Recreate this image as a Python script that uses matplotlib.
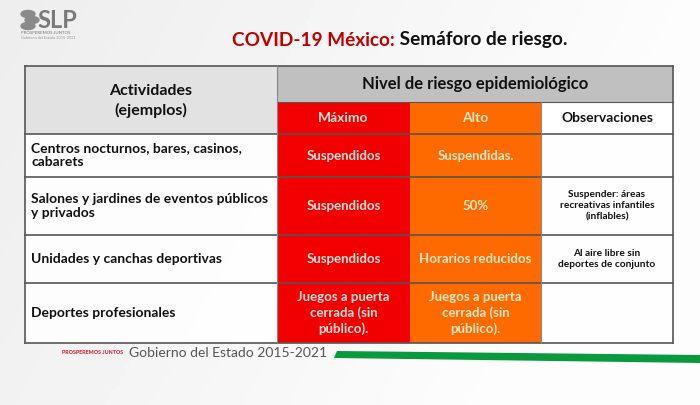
import matplotlib.pyplot as plt
import numpy as np
from matplotlib import font_manager
from matplotlib.patches import Rectangle, Polygon, Ellipse

plt.rcParams['font.family'] = ['Lato', 'DejaVu Sans']

# contenido de la tabla
title_red = 'COVID-19 México:'
title_black = ' Semáforo de riesgo.'
header_left = 'Actividades\n(ejemplos)'
header_top = 'Nivel de riesgo epidemiológico'
levels = ['Máximo', 'Alto', 'Observaciones']
activities = [
    'Centros nocturnos, bares, casinos,\ncabarets',
    'Salones y jardines de eventos públicos\ny privados',
    'Unidades y canchas deportivas',
    'Deportes profesionales',
]
maximo = ['Suspendidos', 'Suspendidos', 'Suspendidos',
          'Juegos a puerta\ncerrada (sin\npúblico).']
alto = ['Suspendidas.', '50%', 'Horarios reducidos',
        'Juegos a puerta\ncerrada (sin\npúblico).']
observaciones = ['', 'Suspender: áreas\nrecreativas infantiles\n(inflables)',
                 'Al aire libre sin\ndeportes de conjunto', '']

# geometria en pixeles
col_x = [25, 277, 410, 541, 673]
row_y = [134, 177, 235, 283, 343]
top, mid = 66, 102

RED = '#f20000'
ORANGE = '#ff6a00'
GRID = '#555555'

# fuente angosta para el pie si existe
names = {f.name for f in font_manager.fontManager.ttflist}
narrow = 'Liberation Sans Narrow' if 'Liberation Sans Narrow' in names else None

fig = plt.figure(figsize=(7, 4.05), dpi=100)
ax = fig.add_axes([0, 0, 1, 1])
ax.set_xlim(0, 700)
ax.set_ylim(405, 0)
ax.axis('off')

# fondo con degradado suave
xx, yy = np.meshgrid(np.linspace(0, 1, 140), np.linspace(0, 1, 81))
bg = 0.93 + 0.06 * np.clip(xx + 0.3 * yy, 0, 1)
ax.imshow(bg, cmap='gray', vmin=0, vmax=1, extent=[0, 700, 405, 0],
          aspect='auto', zorder=0)

# logo
for dx, dy in [(0, 0), (4, 6), (0, 12)]:
    ax.add_patch(Ellipse((28 + dx, 14 + dy), 14, 7, color='#8a8a8a', zorder=2))
ax.text(37, 20, 'SLP', fontsize=17, fontweight='bold', color='#7a7a7a',
        ha='left', va='center', zorder=3)
ax.text(21, 33, 'PROSPEREMOS JUNTOS', fontsize=3.2, color='#777777',
        ha='left', va='center')
ax.text(21, 38, 'Gobierno del Estado 2015-2021', fontsize=2.8, color='#999999',
        ha='left', va='center')

# titulo
t1 = ax.text(232, 40, title_red, fontsize=13.7, fontweight='bold',
             color='#c00000', ha='left', va='center')
fig.canvas.draw()
bb = t1.get_window_extent().transformed(ax.transData.inverted())
ax.text(bb.x1, 40, title_black, fontsize=13.7, fontweight='bold',
        color='#111111', ha='left', va='center')

# encabezados
ax.add_patch(Rectangle((col_x[0], top), col_x[1] - col_x[0], row_y[0] - top,
                       facecolor='#e2e2e2', edgecolor='none', zorder=1))
ax.add_patch(Rectangle((col_x[1], top), col_x[4] - col_x[1], mid - top,
                       facecolor='#c0c0c0', edgecolor='none', zorder=1))
ax.text((col_x[0] + col_x[1]) / 2, (top + row_y[0]) / 2 + 1, header_left,
        fontsize=11.5, fontweight='bold', ha='center', va='center',
        linespacing=1.45, color='#111111', zorder=3)
ax.text((col_x[1] + col_x[4]) / 2, (top + mid) / 2, header_top,
        fontsize=12, fontweight='bold', ha='center', va='center',
        color='#111111', zorder=3)

level_fill = [RED, ORANGE, 'white']
level_text = ['#ffe2dc', '#ffe6c8', '#111111']
for i, name in enumerate(levels):
    ax.add_patch(Rectangle((col_x[i + 1], mid), col_x[i + 2] - col_x[i + 1],
                           row_y[0] - mid, facecolor=level_fill[i],
                           edgecolor='none', zorder=1))
    ax.text((col_x[i + 1] + col_x[i + 2]) / 2, (mid + row_y[0]) / 2, name,
            fontsize=10, fontweight='bold', ha='center', va='center',
            color=level_text[i], zorder=3)

# filas
for r, act in enumerate(activities):
    y0, y1 = row_y[r], row_y[r + 1]
    yc = (y0 + y1) / 2
    ax.add_patch(Rectangle((col_x[0], y0), col_x[1] - col_x[0], y1 - y0,
                           facecolor='white', edgecolor='none', alpha=0.9, zorder=1))
    ax.add_patch(Rectangle((col_x[1], y0), col_x[2] - col_x[1], y1 - y0,
                           facecolor=RED, edgecolor='none', zorder=1))
    ax.add_patch(Rectangle((col_x[2], y0), col_x[3] - col_x[2], y1 - y0,
                           facecolor=ORANGE, edgecolor='none', zorder=1))
    ax.add_patch(Rectangle((col_x[3], y0), col_x[4] - col_x[3], y1 - y0,
                           facecolor='white', edgecolor='none', alpha=0.9, zorder=1))
    ax.text(col_x[0] + 6, yc, act, fontsize=10, fontweight='bold', ha='left',
            va='center', linespacing=1.2, color='#111111', zorder=3)
    ax.text((col_x[1] + col_x[2]) / 2, yc, maximo[r], fontsize=9.5,
            fontweight='bold', ha='center', va='center', linespacing=1.3,
            color='#ffe2dc', zorder=3)
    ax.text((col_x[2] + col_x[3]) / 2, yc, alto[r], fontsize=9.5,
            fontweight='bold', ha='center', va='center', linespacing=1.3,
            color='#ffe6c8', zorder=3)
    ax.text((col_x[3] + col_x[4]) / 2, yc, observaciones[r], fontsize=7.3,
            fontweight='bold', ha='center', va='center', linespacing=1.3,
            color='#111111', zorder=3)

# lineas de la tabla
for y in [top] + row_y:
    ax.plot([col_x[0], col_x[4]], [y, y], color=GRID, lw=1.2, zorder=4)
ax.plot([col_x[1], col_x[4]], [mid, mid], color=GRID, lw=0.8, zorder=4)
ax.plot([col_x[0], col_x[0]], [top, row_y[-1]], color=GRID, lw=1.2, zorder=4)
ax.plot([col_x[4], col_x[4]], [top, row_y[-1]], color=GRID, lw=1.2, zorder=4)
ax.plot([col_x[1], col_x[1]], [top, row_y[-1]], color='#888888', lw=0.8, zorder=4)
ax.plot([col_x[3], col_x[3]], [mid, row_y[-1]], color='#888888', lw=0.8, zorder=4)

# pie
if narrow:
    ax.text(62, 353, 'PROSPEREMOS JUNTOS', fontsize=6, fontweight='bold',
            color='#d0102a', ha='left', va='center', family=narrow)
else:
    ax.text(62, 353, 'PROSPEREMOS JUNTOS', fontsize=3.9, fontweight='bold',
            color='#d0102a', ha='left', va='center')
ax.text(129, 353, 'Gobierno del Estado 2015-2021', fontsize=10,
        color='#555555', ha='left', va='center')
ax.add_patch(Polygon([[337, 351], [700, 355], [700, 363], [334, 358]],
                     closed=True, facecolor='#0a9a3e', edgecolor='none', zorder=2))

fig.savefig('out.png', dpi=100)
